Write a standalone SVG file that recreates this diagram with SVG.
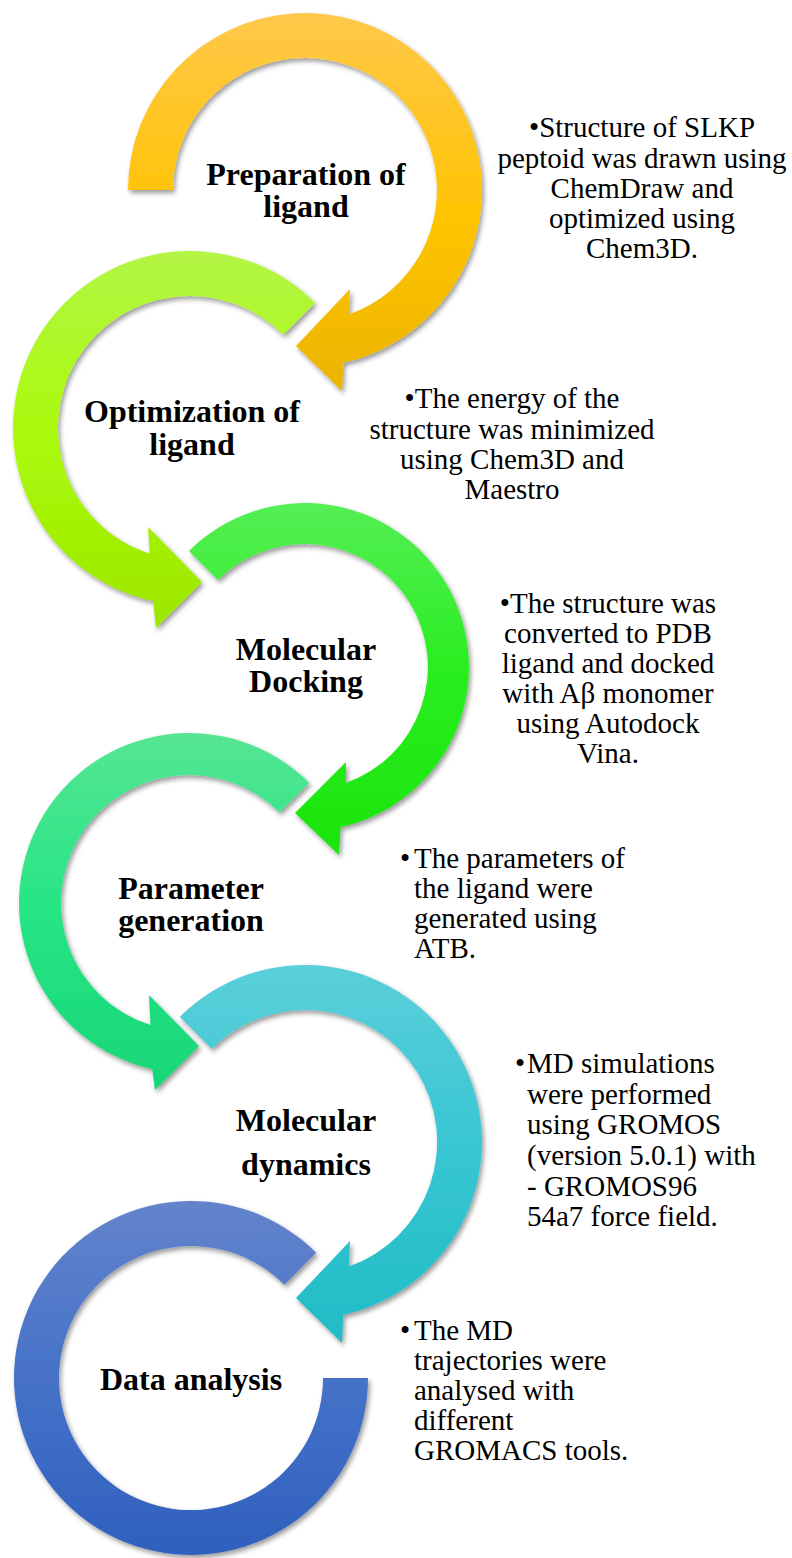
<svg xmlns="http://www.w3.org/2000/svg" width="792" height="1558" viewBox="0 0 792 1558">
<style>
.lbl{font-family:"Liberation Serif","Times New Roman",serif;font-weight:bold;font-size:32px;fill:#000;text-anchor:middle}
.desc{font-family:"Liberation Serif","Times New Roman",serif;font-size:29px;fill:#000}
.c{text-anchor:middle}
.arc{filter:url(#sh)}
</style>
<defs>
<filter id="sh" x="-10%" y="-10%" width="125%" height="125%">
<feDropShadow dx="2" dy="3" stdDeviation="2.5" flood-color="#000" flood-opacity="0.4"/>
</filter>
<linearGradient id="g1" x1="0" y1="0" x2="0" y2="1"><stop offset="0" stop-color="#FFC84B"/><stop offset="0.55" stop-color="#FFC300"/><stop offset="1" stop-color="#EBB400"/></linearGradient>
<linearGradient id="g2" x1="0" y1="0" x2="0" y2="1"><stop offset="0" stop-color="#B3F545"/><stop offset="0.5" stop-color="#AAFA0A"/><stop offset="1" stop-color="#9CE600"/></linearGradient>
<linearGradient id="g3" x1="0" y1="0" x2="0" y2="1"><stop offset="0" stop-color="#55EE55"/><stop offset="0.5" stop-color="#28EE1E"/><stop offset="1" stop-color="#1CE40C"/></linearGradient>
<linearGradient id="g4" x1="0" y1="0" x2="0" y2="1"><stop offset="0" stop-color="#55E593"/><stop offset="0.5" stop-color="#26E585"/><stop offset="1" stop-color="#18D676"/></linearGradient>
<linearGradient id="g5" x1="0" y1="0" x2="0" y2="1"><stop offset="0" stop-color="#5BCFDA"/><stop offset="0.5" stop-color="#36C6D2"/><stop offset="1" stop-color="#20BCC6"/></linearGradient>
<linearGradient id="g6" x1="0" y1="0" x2="0" y2="1"><stop offset="0" stop-color="#6384CC"/><stop offset="0.5" stop-color="#4672C8"/><stop offset="1" stop-color="#2F60BE"/></linearGradient>
</defs>

<g id="connectors">
<path id="arrow1" class="arc" fill="url(#g1)" d="M 128 190 A 177 177 0 1 1 343.3 362.8 L 342 391 L 296 346 L 350 289 L 348.8 314.5 A 132 132 0 1 0 173 190 Z"/>
<path id="arrow2" class="arc" fill="url(#g2)" d="M 315.2 302.8 A 177 177 0 1 0 153.2 601.1 L 156 628 L 202 582 L 148 527 L 149.9 553.8 A 132 132 0 1 1 283.3 334.7 Z"/>
<path id="arrow3" class="arc" fill="url(#g3)" d="M 189 551 A 164 164 0 1 1 340.5 827.1 L 339 855 L 295 813 L 346 762 L 345.7 783.1 A 123 123 0 1 0 218 580 Z"/>
<path id="arrow4" class="arc" fill="url(#g4)" d="M 309.2 782.8 A 170 170 0 1 0 152.2 1069 L 155 1090 L 199 1046 L 149 995 L 150.5 1025.1 A 128 128 0 1 1 279.5 812.5 Z"/>
<path id="arrow5" class="arc" fill="url(#g5)" d="M 179.8 1016.8 A 177 177 0 1 1 343.3 1314.8 L 342 1343 L 296 1298 L 350 1241 L 348.8 1266.5 A 132 132 0 1 0 211.7 1048.7 Z"/>
<path id="arc6" class="arc" fill="url(#g6)" d="M 316.2 1252.8 A 177 177 0 1 0 368 1378 L 323 1378 A 132 132 0 1 1 284.3 1284.7 Z"/>
</g>

<g id="node1">
<text class="lbl" x="306" y="185">Preparation of</text>
<text class="lbl" x="306" y="217">ligand</text>
<text class="desc c" x="642" y="137">•Structure of SLKP</text>
<text class="desc c" x="642" y="168">peptoid was drawn using</text>
<text class="desc c" x="642" y="198">ChemDraw and</text>
<text class="desc c" x="642" y="228">optimized using</text>
<text class="desc c" x="642" y="258">Chem3D.</text>
</g>

<g id="node2">
<text class="lbl" x="192" y="422">Optimization of</text>
<text class="lbl" x="192" y="455">ligand</text>
<text class="desc c" x="512" y="408">•The energy of the</text>
<text class="desc c" x="512" y="439">structure was minimized</text>
<text class="desc c" x="512" y="469">using Chem3D and</text>
<text class="desc c" x="512" y="499">Maestro</text>
</g>

<g id="node3">
<text class="lbl" x="306" y="660">Molecular</text>
<text class="lbl" x="306" y="692">Docking</text>
<text class="desc c" x="608" y="613">•The structure was</text>
<text class="desc c" x="608" y="643">converted to PDB</text>
<text class="desc c" x="608" y="673">ligand and docked</text>
<text class="desc c" x="608" y="703">with Aβ monomer</text>
<text class="desc c" x="608" y="733">using Autodock</text>
<text class="desc c" x="608" y="763">Vina.</text>
</g>

<g id="node4">
<text class="lbl" x="191" y="899">Parameter</text>
<text class="lbl" x="191" y="931">generation</text>
<text class="desc" x="400" y="868">•</text>
<text class="desc" x="414" y="868">The parameters of</text>
<text class="desc" x="414" y="898">the ligand were</text>
<text class="desc" x="414" y="928">generated using</text>
<text class="desc" x="414" y="958">ATB.</text>
</g>

<g id="node5">
<text class="lbl" x="306" y="1131">Molecular</text>
<text class="lbl" x="306" y="1175">dynamics</text>
<text class="desc" x="515" y="1073">•</text>
<text class="desc" x="527" y="1073">MD simulations</text>
<text class="desc" x="527" y="1104">were performed</text>
<text class="desc" x="527" y="1134">using GROMOS</text>
<text class="desc" x="527" y="1165">(version 5.0.1) with</text>
<text class="desc" x="527" y="1196">- GROMOS96</text>
<text class="desc" x="527" y="1226">54a7 force field.</text>
</g>

<g id="node6">
<text class="lbl" x="191" y="1390">Data analysis</text>
<text class="desc" x="400" y="1340">•</text>
<text class="desc" x="414" y="1340">The MD</text>
<text class="desc" x="414" y="1370">trajectories were</text>
<text class="desc" x="414" y="1400">analysed with</text>
<text class="desc" x="414" y="1430">different</text>
<text class="desc" x="414" y="1460">GROMACS tools.</text>
</g>
</svg>
